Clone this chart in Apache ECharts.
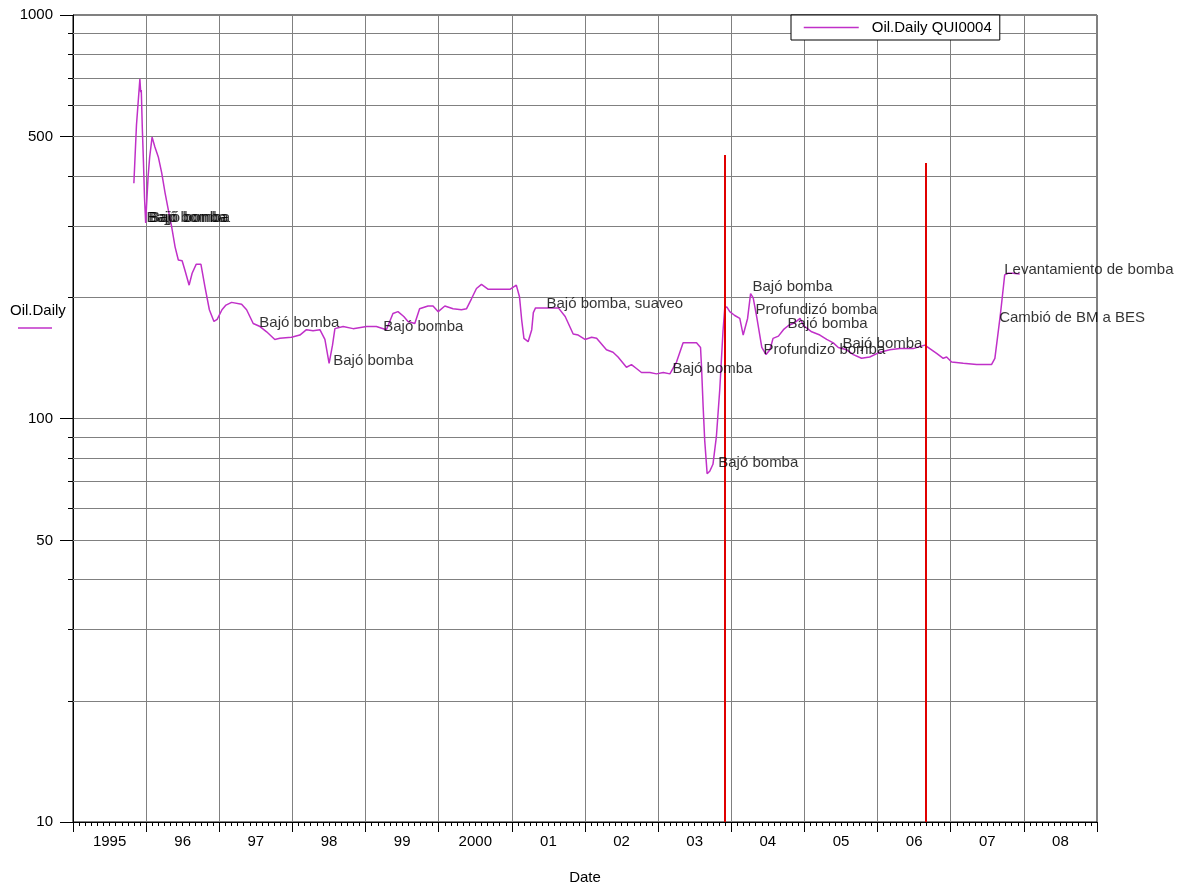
<!DOCTYPE html>
<html>
<head>
<meta charset="utf-8">
<script src="https://cdn.jsdelivr.net/npm/echarts@6/dist/echarts.min.js"></script>
<style>html,body{margin:0;padding:0;background:#fff}#c{width:1197px;height:884px}</style>
</head>
<body>
<div id="c"></div>
<script>
const yearLabels = ['1995','96','97','98','99','2000','01','02','03','04','05','06','07','08'];

const oilDates = [
'1995-11-01','1995-11-14','1995-11-20','1995-12-01','1995-12-05','1995-12-08','1995-12-13','1995-12-19','1995-12-24','1995-12-30',
'1996-01-03','1996-01-11','1996-01-19','1996-01-31','1996-02-14','1996-03-02','1996-03-19','1996-04-05','1996-04-21','1996-05-08',
'1996-05-25','1996-06-10','1996-06-29','1996-07-13','1996-08-03','1996-08-18','1996-09-07','1996-10-01','1996-10-21','1996-11-12',
'1996-12-05','1996-12-21','1997-01-14','1997-02-03','1997-03-03','1997-04-22','1997-05-17','1997-06-19','1997-07-23','1997-08-25',
'1997-10-05','1997-10-30','1997-12-27','1998-02-07','1998-03-12','1998-04-14','1998-05-18','1998-06-12','1998-07-03','1998-07-20',
'1998-08-01','1998-09-11','1998-10-31','1999-01-06','1999-02-24','1999-04-15','1999-05-18','1999-06-12','1999-07-11','1999-08-01',
'1999-09-04','1999-09-28','1999-11-09','1999-12-04','1999-12-30','2000-02-01','2000-03-13','2000-04-24','2000-05-19','2000-06-13',
'2000-07-08','2000-08-02','2000-09-05','2000-11-02','2000-12-22','2001-01-23','2001-02-08','2001-02-19','2001-03-02','2001-03-23',
'2001-04-10','2001-04-18','2001-04-29','2001-06-24','2001-08-21','2001-09-24','2001-11-03','2001-11-28','2002-01-01','2002-02-03',
'2002-02-28','2002-04-18','2002-05-21','2002-06-15','2002-07-27','2002-08-21','2002-09-15','2002-10-10','2002-11-21','2002-12-24',
'2003-01-27','2003-03-01','2003-04-03','2003-05-06','2003-05-24','2003-07-12','2003-08-01','2003-08-06','2003-08-14','2003-08-22',
'2003-09-03','2003-09-16','2003-10-02','2003-10-19','2003-11-05','2003-11-21','2003-11-30','2003-12-10','2003-12-25','2004-01-19',
'2004-02-13','2004-03-01','2004-03-23','2004-04-07','2004-04-20','2004-05-08','2004-06-02','2004-06-23','2004-07-13','2004-07-28',
'2004-08-24','2004-09-18','2004-10-13','2004-11-15','2004-12-10','2004-12-27','2005-02-06','2005-03-19','2005-04-22','2005-05-25',
'2005-06-19','2005-07-31','2005-09-02','2005-10-13','2005-11-23','2006-01-13','2006-03-03','2006-04-22','2006-06-28','2006-08-25',
'2006-09-19','2006-10-23','2006-11-25','2006-12-12','2007-01-06','2007-03-05','2007-05-11','2007-07-24','2007-08-10','2007-08-26',
'2007-09-07','2007-09-17','2007-09-28','2007-10-15','2007-11-09','2007-12-12'
];
const oilValues = [
383,534,540,694,644,652,527,430,354,305,
335,397,445,498,471,445,406,362,329,298,
266,247,246,233,214,229,241,241,212,186,
174,176,186,191,194,192,186,172,169,164,
157,158,159,161,166,165,166,157,137,152,
167,169,167,169,169,166,182,184,179,174,
172,187,190,190,184,190,187,186,187,198,
210,215,209,209,209,214,200,175,158,155,
166,183,188,188,188,179,162,161,157,159,
158,148,146,142,134,136,133,130,130,129,
130,129,138,154,154,154,150,134,107,88,
73,74,77,90,118,164,188,189,184,180,
177,161,177,204,199,178,150,144,148,158,
160,166,170,173,177,170,164,161,157,154,
150,148,144,141,142,146,148,149,149,152,
149,145,141,142,138,137,136,136,141,163,
182,202,227,229,229,228
];

const noteDates = ['1995-12-31','1996-01-09','1996-01-18','1997-07-17','1998-07-21','1999-03-28','2001-06-20','2003-03-11','2003-10-26','2004-04-14','2004-04-29','2004-10-06','2004-06-08','2005-07-07','2007-09-23','2007-08-29'];
const noteValues = [315,315,315,173,139,169,192,132.5,77.5,212,186,172,148,153,233,178];
const noteTexts = ['Bajó bomba','Bajó bomba','Bajó bomba','Bajó bomba','Bajó bomba','Bajó bomba','Bajó bomba, suaveo','Bajó bomba','Bajó bomba','Bajó bomba','Profundizó bomba','Bajó bomba','Profundizó bomba','Bajó bomba','Levantamiento de bomba','Cambió de BM a BES'];

const redLineDates = ['2003-11-30','2006-08-31'];
const redLineTops = [450, 430];

const minorGridValues = [20,30,40,50,60,70,80,90,200,300,400,500,600,700,800,900];
const labeledMinorValues = [50,500];

const monthTicks = [];
for (let y = 1995; y <= 2008; y++) for (let m = 1; m <= 12; m++) monthTicks.push(y + '-' + m);

const FONT = 'Liberation Sans';
const LINE_COLOR = '#c030c8';

const chart = echarts.init(document.getElementById('c'));
chart.setOption({
  animation: false,
  backgroundColor: '#fff',
  textStyle: { fontFamily: FONT },
  grid: { left: 73, top: 15, width: 1024, height: 807, show: true, borderColor: '#000', borderWidth: 1, backgroundColor: 'transparent', containLabel: false, outerBoundsMode: 'none' },
  legend: {
    data: ['Oil.Daily QUI0004'], left: 791, top: 15, orient: 'horizontal',
    backgroundColor: '#fff', borderColor: '#000', borderWidth: 1, borderRadius: 0,
    padding: [5, 8, 5, 12], itemWidth: 55, itemHeight: 14,
    itemStyle: { color: 'rgba(0,0,0,0)', borderColor: 'rgba(0,0,0,0)', borderWidth: 0, opacity: 0 },
    lineStyle: { color: LINE_COLOR, width: 1.5, opacity: 1 },
    textStyle: { fontSize: 15, color: '#000', fontFamily: FONT, padding: [0, 0, 0, 8] }
  },
  graphic: [
    { type: 'text', left: 10, top: 303, style: { text: 'Oil.Daily', fontSize: 15, fontFamily: FONT, fill: '#000' } },
    { type: 'line', shape: { x1: 18, y1: 328, x2: 52, y2: 328 }, style: { stroke: LINE_COLOR, lineWidth: 1.5 } }
  ],
  xAxis: [
    { type: 'time', min: '1995-01-01', max: '2009-01-01', show: false },
    {
      type: 'category', data: yearLabels, boundaryGap: true, position: 'bottom',
      axisLine: { show: true, lineStyle: { color: '#000', width: 1 } },
      axisTick: { show: true, interval: 0, length: 10, alignWithLabel: false, lineStyle: { color: '#000' } },
      axisLabel: { interval: 0, margin: 12, fontSize: 15, color: '#000', fontFamily: FONT },
      splitLine: { show: true, interval: 0, lineStyle: { color: '#808080', width: 1 } },
      name: 'Date', nameLocation: 'middle', nameGap: 48,
      nameTextStyle: { fontSize: 15, color: '#000', fontFamily: FONT }
    },
    {
      type: 'category', data: monthTicks, boundaryGap: true, position: 'bottom',
      axisLine: { show: false },
      axisTick: { show: true, interval: 0, length: 4, lineStyle: { color: '#000' } },
      axisLabel: { show: false },
      splitLine: { show: false }
    }
  ],
  yAxis: {
    type: 'log', logBase: 10, min: 10, max: 1000,
    axisLine: { show: true, lineStyle: { color: '#000', width: 1 } },
    axisTick: { show: true, length: 13, lineStyle: { color: '#000' } },
    axisLabel: { margin: 20, fontSize: 15, color: '#000', fontFamily: FONT, formatter: v => String(Math.round(v)) },
    splitLine: { show: true, lineStyle: { color: '#808080', width: 1 } },
    minorTick: { show: false }, minorSplitLine: { show: false }
  },
  series: [
    {
      type: 'custom', name: 'grid', silent: true, clip: false, z: 1,
      data: minorGridValues.map(v => ['1995-01-01', v]),
      encode: { x: 0, y: 1 },
      renderItem: function (params, api) {
        const cs = params.coordSys;
        const v = api.value(1);
        const y = Math.round(api.coord([api.value(0), v])[1]) + 0.5;
        const isLong = labeledMinorValues.indexOf(v) >= 0;
        const children = [
          { type: 'line', shape: { x1: cs.x, y1: y, x2: cs.x + cs.width, y2: y }, style: { stroke: '#808080', lineWidth: 1 } },
          { type: 'line', shape: { x1: cs.x - (isLong ? 13 : 5), y1: y, x2: cs.x, y2: y }, style: { stroke: '#000', lineWidth: 1 } }
        ];
        if (isLong) {
          children.push({ type: 'text', style: { text: String(v), x: cs.x - 20, y: y, align: 'right', verticalAlign: 'middle', fill: '#000', fontSize: 15, fontFamily: FONT } });
        }
        return { type: 'group', children: children };
      }
    },
    {
      type: 'line', name: 'Oil.Daily QUI0004', z: 3,
      data: oilDates.map((d, i) => [d, oilValues[i]]),
      showSymbol: false, symbol: 'none',
      lineStyle: { color: LINE_COLOR, width: 1.5 },
      itemStyle: { color: LINE_COLOR },
      markLine: {
        silent: true, symbol: ['none', 'none'], label: { show: false },
        lineStyle: { color: '#e00000', width: 2, type: 'solid' },
        data: redLineDates.map((d, i) => [{ coord: [d, 10] }, { coord: [d, redLineTops[i]] }])
      }
    },
    {
      type: 'scatter', name: 'notes', silent: true, z: 5,
      symbolSize: 1, itemStyle: { color: 'rgba(0,0,0,0)' },
      data: noteDates.map((d, i) => [d, noteValues[i], noteTexts[i]]),
      label: { show: true, position: 'right', distance: 0, formatter: p => p.value[2], color: '#000', fontSize: 15, fontFamily: FONT }
    }
  ]
});
</script>
</body>
</html>
